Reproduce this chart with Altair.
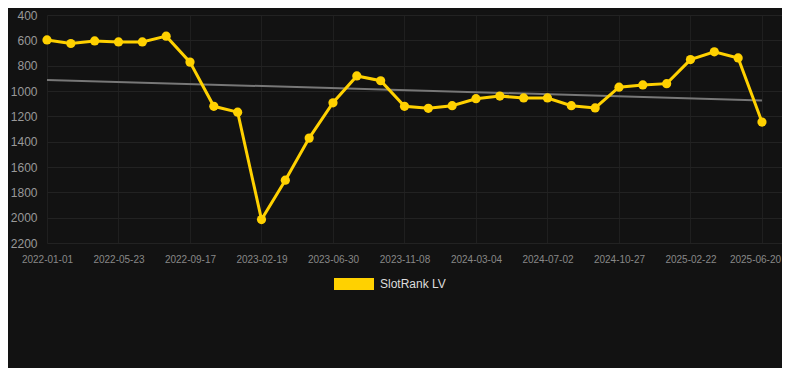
import altair as alt
import pandas as pd

# SlotRank values (rank, lower is better), one per period, evenly spaced
ranks = [597, 625, 605, 613, 613, 567, 772, 1121, 1167, 2015, 1704, 1372, 1093, 881,
         919, 1121, 1137, 1116, 1061, 1040, 1055, 1055, 1116, 1134, 970, 952, 942,
         752, 691, 739, 1245]
tick_labels = ["2022-01-01", "2022-05-23", "2022-09-17", "2023-02-19", "2023-06-30",
               "2023-11-08", "2024-03-04", "2024-07-02", "2024-10-27", "2025-02-22",
               "2025-06-20"]
y_ticks = [400, 600, 800, 1000, 1200, 1400, 1600, 1800, 2000, 2200]
series_name = "SlotRank LV"

df = pd.DataFrame({
    "idx": list(range(len(ranks))),
    "rank": ranks,
    "series": [series_name] * len(ranks),
})

YELLOW = "#FFD100"
FONT = "Liberation Sans"
last_tick = (len(tick_labels) - 1) * 3

label_expr = "[" + ",".join("'%s'" % t for t in tick_labels) + "][round(datum.value/3)]"

x_enc = alt.X("idx:Q",
              scale=alt.Scale(domain=[0, 30.84], nice=False, zero=False),
              axis=alt.Axis(values=[i * 3 for i in range(len(tick_labels))],
                            labelExpr=label_expr, title=None, grid=True,
                            gridColor="#1f1f1f", ticks=False, tickSize=0, domain=False,
                            labelOverlap=False, labelFlush=False,
                            labelOffset={"condition": {"test": "datum.value == %d" % last_tick,
                                                       "value": -7}, "value": 0},
                            labelFontSize=10, labelColor="#888888", labelPadding=11,
                            labelFont=FONT))
y_enc = alt.Y("rank:Q",
              scale=alt.Scale(domain=[400, 2200], reverse=True, nice=False, zero=False),
              axis=alt.Axis(values=y_ticks, format="d", title=None, grid=True,
                            gridColor="#222222", ticks=False, tickSize=0, domain=False,
                            labelFontSize=12, labelColor="#999999", labelPadding=10,
                            labelFont=FONT))

base = alt.Chart(df)

trend = base.transform_regression("idx", "rank", extent=[0, 30]).mark_line(
    color="#777777", strokeWidth=2
).encode(x=x_enc, y=y_enc)

line = base.mark_line(color=YELLOW, strokeWidth=3).encode(x=x_enc, y=y_enc)

points = base.mark_point(filled=True, size=85, opacity=1).encode(
    x=x_enc, y=y_enc,
    color=alt.Color("series:N",
                    scale=alt.Scale(domain=[series_name], range=[YELLOW]),
                    legend=alt.Legend(title=None, orient="none", legendX=287, legendY=249,
                                      symbolType="M-1,-0.3H1V0.3H-1Z", symbolSize=1600,
                                      symbolStrokeWidth=0, labelFontSize=12,
                                      labelColor="#dddddd", labelFont=FONT,
                                      labelOffset=6, padding=0)),
)

chart = alt.layer(trend, line, points).properties(
    width=735, height=228,
    background="#121212",
    padding={"left": 39, "top": 7, "right": 0, "bottom": 125},
    autosize=alt.AutoSizeParams(type="none"),
).configure_view(stroke=None)

chart.save("out.html", embed_options={"renderer": "svg", "actions": False})
